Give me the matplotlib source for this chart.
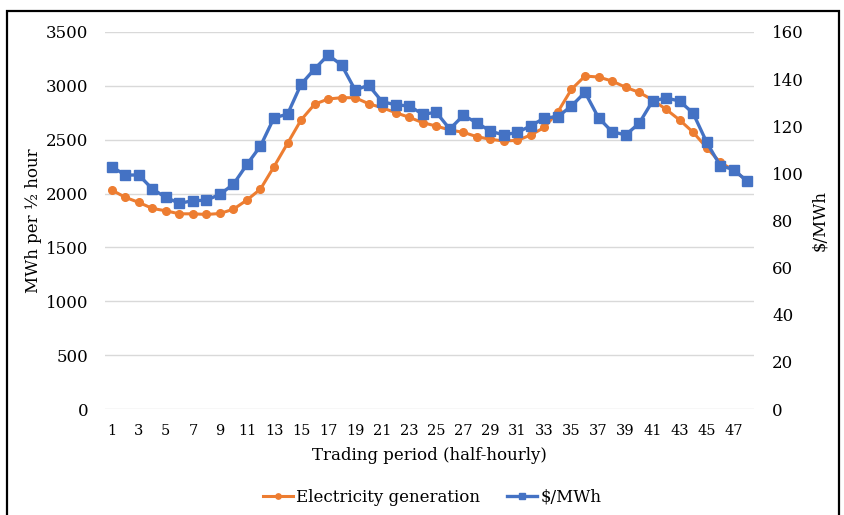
import matplotlib
matplotlib.use("Agg")
import matplotlib.pyplot as plt
from matplotlib.patches import Rectangle
import numpy as np

periods = list(range(1, 49))
generation = [2033, 1965, 1918, 1862, 1840, 1812, 1812, 1806, 1815, 1855,
              1940, 2042, 2250, 2466, 2683, 2829, 2878, 2890, 2890, 2834,
              2797, 2751, 2708, 2658, 2627, 2590, 2569, 2528, 2504, 2488,
              2494, 2544, 2615, 2760, 2968, 3091, 3082, 3045, 2987, 2940,
              2869, 2782, 2683, 2569, 2426, 2290, 2216, 2117]
price = [102.8, 99.3, 99.3, 93.4, 89.8, 87.3, 88.4, 88.6, 91.1, 95.4,
         103.8, 111.6, 123.6, 125.1, 137.8, 144.3, 150.2, 146.0, 135.4, 137.4,
         130.4, 129.1, 128.6, 125.1, 125.9, 118.8, 124.6, 121.5, 117.9, 116.3,
         117.4, 120.2, 123.5, 124.1, 128.6, 134.4, 123.6, 117.7, 116.3, 121.2,
         130.7, 132.0, 130.7, 125.5, 113.2, 103.3, 101.6, 96.6]
xtick_labels = [str(p) for p in range(1, 48, 2)]
left_ticks = [0, 500, 1000, 1500, 2000, 2500, 3000, 3500]
right_ticks = [0, 20, 40, 60, 80, 100, 120, 140, 160]

W, H = 844, 515
fig = plt.figure(figsize=(W / 100, H / 100), dpi=100)
fig.patch.set_facecolor("white")

L, R, T, B = 105, 754, 32, 409
ax = fig.add_axes([L / W, 1 - B / H, (R - L) / W, (B - T) / H])
ax2 = ax.twinx()

font = "DejaVu Serif"
orange = "#ED7D31"
blue = "#4472C4"

ax.plot(periods, generation, color=orange, lw=2.2, marker="o", ms=5.5,
        label="Electricity generation", zorder=3)
ax2.plot(periods, price, color=blue, lw=2.4, marker="s", ms=6.5,
         label="$/MWh", zorder=3)

ax.set_xlim(0.5, 48.5)
ax.set_ylim(0, 3500)
ax2.set_ylim(0, 160)
ax.set_yticks(left_ticks)
ax2.set_yticks(right_ticks)
ax.set_xticks(list(range(1, 48, 2)))
ax.set_xticklabels(xtick_labels, fontfamily=font, fontsize=10.5)
ax.set_yticklabels([str(t) for t in left_ticks], fontfamily=font, fontsize=12)
ax2.set_yticklabels([str(t) for t in right_ticks], fontfamily=font, fontsize=12)

ax.grid(axis="y", color="#d9d9d9", lw=1.0)
ax.set_axisbelow(True)
for a in (ax, ax2):
    for s in a.spines.values():
        s.set_visible(False)
ax.tick_params(axis="both", length=0)
ax.tick_params(axis="y", pad=12)
ax.tick_params(axis="x", pad=11)
ax2.tick_params(axis="y", length=0, pad=13)

ax.set_xlabel("Trading period (half-hourly)", fontfamily=font, fontsize=12, labelpad=6)
ax.set_ylabel("MWh per ½ hour", fontfamily=font, fontsize=12, labelpad=3)
ax2.set_ylabel("$/MWh", fontfamily=font, fontsize=12, labelpad=5)

h1, l1 = ax.get_legend_handles_labels()
h2, l2 = ax2.get_legend_handles_labels()
fig.legend(h1 + h2, l1 + l2, loc="center", bbox_to_anchor=(432 / W, 1 - 497 / H),
           ncol=2, frameon=False, prop={"family": font, "size": 12},
           handlelength=1.8, handletextpad=0.2, columnspacing=1.6, markerscale=0.7)

fig.patches.append(Rectangle((7 / W, -0.05), (839 - 7) / W, 1.05 - 10.5 / H,
                             transform=fig.transFigure, fill=False,
                             edgecolor="black", lw=1.6, zorder=10))

fig.savefig("out.png", dpi=100)
